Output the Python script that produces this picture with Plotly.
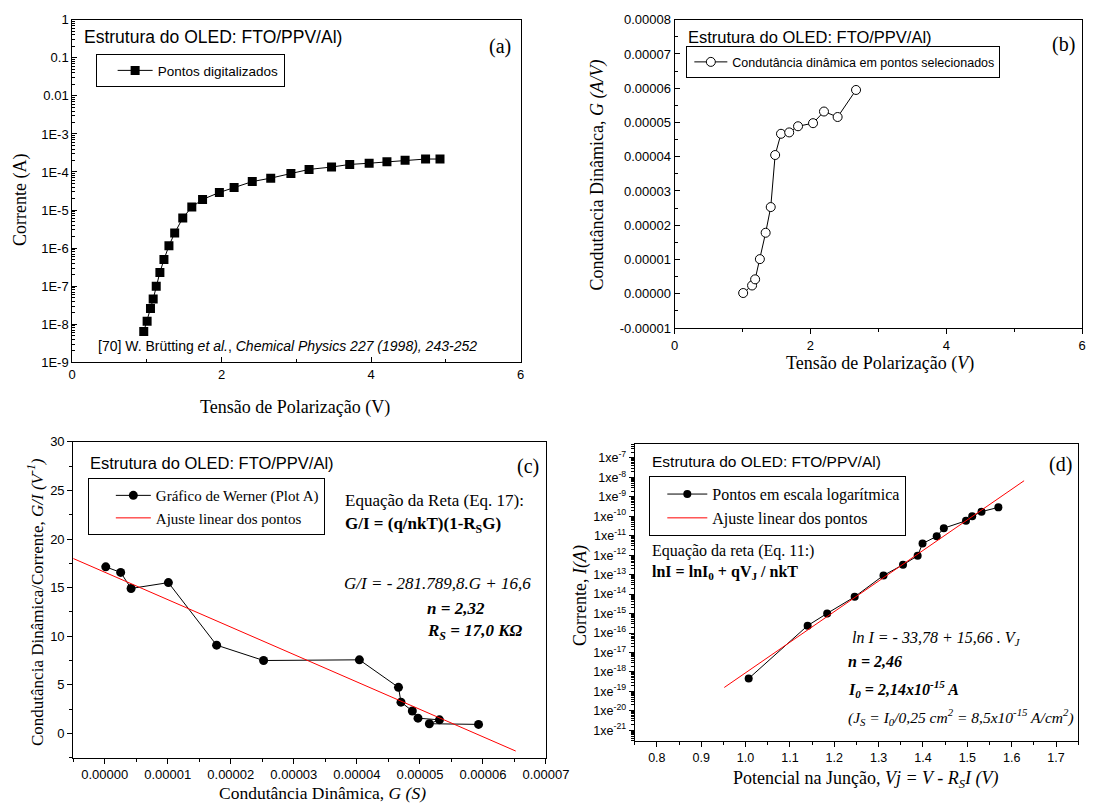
import plotly.graph_objects as go

# ---------------- data ----------------
# (a) I-V curve
a_voltage = [0.957, 1.002, 1.047, 1.083, 1.124, 1.173, 1.227, 1.294, 1.371, 1.479, 1.600, 1.744,
             1.969, 2.166, 2.409, 2.656, 2.926, 3.169, 3.470, 3.713, 3.973, 4.211, 4.454, 4.728, 4.921]
a_current = [6.4e-9, 1.2e-8, 2.6e-8, 4.6e-8, 1.0e-7, 2.3e-7, 5.0e-7, 1.15e-6, 2.5e-6, 6.2e-6, 1.2e-5, 1.9e-5,
             2.9e-5, 3.9e-5, 5.6e-5, 6.9e-5, 9.1e-5, 1.17e-4, 1.35e-4, 1.58e-4, 1.7e-4, 1.86e-4, 2.05e-4, 2.19e-4, 2.19e-4]
a_xticks = [0, 2, 4, 6]
a_yticks = [1e-9, 1e-8, 1e-7, 1e-6, 1e-5, 1e-4, 1e-3, 1e-2, 1e-1, 1]
a_yticktext = ["1E-9", "1E-8", "1E-7", "1E-6", "1E-5", "1E-4", "1E-3", "0.01", "0.1", "1"]

# (b) dynamic conductance
b_voltage = [1.009, 1.140, 1.185, 1.255, 1.340, 1.415, 1.480, 1.566, 1.687, 1.817, 2.038, 2.199, 2.400, 2.671]
b_conductance = [0.02e-5, 0.24e-5, 0.42e-5, 1.01e-5, 1.78e-5, 2.53e-5, 4.05e-5, 4.67e-5, 4.71e-5,
                 4.89e-5, 4.98e-5, 5.32e-5, 5.16e-5, 5.95e-5]
b_yticks = [-0.00001, 0, 0.00001, 0.00002, 0.00003, 0.00004, 0.00005, 0.00006, 0.00007, 0.00008]
b_yticktext = ["-0.00001", "0.00000", "0.00001", "0.00002", "0.00003", "0.00004", "0.00005",
               "0.00006", "0.00007", "0.00008"]

# (c) Werner plot
c_conductance = [0.016e-5, 0.253e-5, 0.418e-5, 1.01e-5, 1.775e-5, 2.52e-5, 4.04e-5, 4.66e-5, 4.70e-5,
                 4.88e-5, 4.97e-5, 5.31e-5, 5.15e-5, 5.93e-5]
c_g_over_i = [17.14, 16.57, 14.92, 15.52, 9.09, 7.51, 7.58, 4.75, 3.23, 2.32, 1.58, 1.41, 1.01, 0.94]
c_fit_x = [-0.000005, 0.0000652]
c_fit_y = [18.0, -1.8]
c_xticks = [0, 0.00001, 0.00002, 0.00003, 0.00004, 0.00005, 0.00006, 0.00007]
c_xticktext = ["0.00000", "0.00001", "0.00002", "0.00003", "0.00004", "0.00005", "0.00006", "0.00007"]
c_yticks = [0, 5, 10, 15, 20, 25, 30]

# (d) ln I vs junction potential
d_vj = [1.007, 1.140, 1.184, 1.246, 1.311, 1.355, 1.388, 1.399, 1.431, 1.447, 1.497, 1.511, 1.532, 1.570]
d_ln_i = [-18.34, -15.62, -14.99, -14.14, -13.04, -12.49, -12.03, -11.40, -11.03, -10.61, -10.23, -10.0, -9.76, -9.54]
d_fit_x = [0.952, 1.628]
d_fit_y = [-18.8, -8.17]
d_xticks = [0.8, 0.9, 1.0, 1.1, 1.2, 1.3, 1.4, 1.5, 1.6, 1.7]
d_xticktext = ["0.8", "0.9", "1.0", "1.1", "1.2", "1.3", "1.4", "1.5", "1.6", "1.7"]
d_yticks = [-21, -20, -19, -18, -17, -16, -15, -14, -13, -12, -11, -10, -9, -8, -7]

# ---------------- styling helpers ----------------
W, H = 1110, 811
SANS = "Arial, Liberation Sans, sans-serif"
SERIF = "Times New Roman, Liberation Serif, serif"


def fx(x):
    return x / W


def fy(y):
    return 1 - y / H


fig = go.Figure()

# (a)
fig.add_trace(go.Scatter(x=a_voltage, y=a_current, mode="lines+markers", name="Pontos digitalizados",
                         line=dict(color="black", width=1),
                         marker=dict(symbol="square", size=9, color="black"),
                         xaxis="x", yaxis="y", legend="legend"))
# (b)
fig.add_trace(go.Scatter(x=b_voltage, y=b_conductance, mode="lines+markers",
                         name="Condutância dinâmica em pontos selecionados",
                         line=dict(color="black", width=1),
                         marker=dict(symbol="circle", size=9, color="white", line=dict(color="black", width=1)),
                         xaxis="x2", yaxis="y2", legend="legend2"))
# (c)
fig.add_trace(go.Scatter(x=c_conductance, y=c_g_over_i, mode="lines+markers", name="Gráfico de Werner (Plot A)",
                         line=dict(color="black", width=1),
                         marker=dict(symbol="circle", size=9, color="black"),
                         xaxis="x3", yaxis="y3", legend="legend3"))
fig.add_trace(go.Scatter(x=c_fit_x, y=c_fit_y, mode="lines", name="Ajuste linear dos pontos",
                         line=dict(color="red", width=1), xaxis="x3", yaxis="y3", legend="legend3"))
# (d)
fig.add_trace(go.Scatter(x=d_vj, y=d_ln_i, mode="lines+markers", name="Pontos em escala logarítmica",
                         line=dict(color="black", width=1),
                         marker=dict(symbol="circle", size=8, color="black"),
                         xaxis="x4", yaxis="y4", legend="legend4"))
fig.add_trace(go.Scatter(x=d_fit_x, y=d_fit_y, mode="lines", name="Ajuste linear dos pontos",
                         line=dict(color="red", width=1), xaxis="x4", yaxis="y4", legend="legend4"))


def axis(domain, anchor, ticks, tickvals, ticktext=None, rng=None, minor_vals=None, typ="linear", size=13):
    d = dict(domain=domain, anchor=anchor, type=typ, range=rng, showgrid=False, zeroline=False,
             showline=True, linecolor="black", linewidth=1, mirror=True,
             ticks=ticks, ticklen=5, tickwidth=1, tickcolor="black",
             tickmode="array", tickvals=tickvals,
             tickfont=dict(family=SANS, size=size, color="black"))
    if ticktext is not None:
        d["ticktext"] = ticktext
    if minor_vals is not None:
        d["minor"] = dict(tickmode="array", tickvals=minor_vals, ticks=ticks, ticklen=3,
                          tickwidth=1, tickcolor="black", showgrid=False)
    return d


a_minor_y = [k * 10 ** e for e in range(-9, 0) for k in range(2, 10)]
b_minor_y = [(-0.5 + i) * 1e-5 for i in range(9)]
c_minor_x = [(-0.5 + i) * 1e-5 for i in range(9)]
c_minor_y = [-2.5 + 5 * i for i in range(7)]
d_minor_x = [0.75 + 0.1 * i for i in range(11)]
d_minor_y = [e + lg for e in range(-22, -6) for lg in (0.301, 0.477, 0.602, 0.699, 0.778, 0.845, 0.903, 0.954)]

fig.update_layout(
    xaxis=axis([fx(70), fx(530)], "y", "inside", a_xticks, None, [0, 6], [1, 3, 5]),
    yaxis=axis([fy(362), fy(13)], "x", "inside", a_yticks, a_yticktext, [-9, 0], a_minor_y, typ="log"),
    xaxis2=axis([fx(688), fx(1106)], "y2", "outside", a_xticks, None, [0, 6], [1, 3, 5]),
    yaxis2=axis([fy(327), fy(13)], "x2", "inside", b_yticks, b_yticktext, [-0.00001, 0.00008], b_minor_y),
    xaxis3=axis([fx(71), fx(556)], "y3", "outside", c_xticks, c_xticktext, [-0.000005, 0.00007], c_minor_x),
    yaxis3=axis([fy(765), fy(443)], "x3", "outside", c_yticks, None, [-2.5, 30], c_minor_y),
    xaxis4=axis([fx(647), fx(1102)], "y4", "outside", d_xticks, d_xticktext, [0.75, 1.75], d_minor_x, size=12.5),
    yaxis4=axis([fy(748), fy(445)], "x4", "outside", d_yticks,
                ["1xe<sup>%d</sup>" % v for v in d_yticks], [-21.56, -6.27], d_minor_y, size=12.5),
)


def legend_box(x, y, family, size, itemwidth=30, indent=0):
    return dict(x=fx(x), y=fy(y), xanchor="left", yanchor="top", bordercolor="black", borderwidth=1,
                bgcolor="white", font=dict(family=family, size=size, color="black"),
                itemwidth=itemwidth, indentation=indent, tracegroupgap=0)


fig.update_layout(
    width=W, height=H, margin=dict(l=0, r=0, t=0, b=0),
    paper_bgcolor="white", plot_bgcolor="white", showlegend=True,
    legend=legend_box(94, 48, SANS, 13.5, itemwidth=35, indent=16),
    legend2=legend_box(700, 40, SANS, 12.5, itemwidth=33, indent=2),
    legend3=legend_box(86, 480, SERIF, 15, itemwidth=35, indent=22),
    legend4=legend_box(662, 478, SERIF, 16, itemwidth=40, indent=12),
)

annotations = []


def ann(text, x, y, size, family=SERIF, xanchor="left", angle=0, color="black"):
    annotations.append(dict(text=text, x=fx(x), y=fy(y), xref="paper", yref="paper", showarrow=False,
                            xanchor=xanchor, yanchor="middle", textangle=angle,
                            font=dict(family=family, size=size, color=color)))


title_txt = "Estrutura do OLED: FTO/PPV/Al)"
# (a)
ann(title_txt, 80, 31, 17.5, SANS)
ann("(a)", 509, 40, 20, SERIF, "center")
ann("[70] W. Brütting <i>et al.</i>, <i>Chemical Physics 227 (1998), 243-252</i>", 94, 345, 14, SANS)
ann("Corrente (A)", 17, 197, 18, SERIF, "center", -90)
ann("Tensão de Polarização (V)", 299, 408, 18, SERIF, "center")
# (b)
ann(title_txt, 700, 31, 16.5, SANS)
ann("(b)", 1087, 38, 20, SERIF, "center")
ann("Condutância Dinâmica, <i>G (A/V)</i>", 609, 171, 18, SERIF, "center", -90)
ann("Tensão de Polarização (<i>V</i>)", 899, 363, 18, SERIF, "center")
# (c)
ann(title_txt, 86, 465, 16.5, SANS)
ann("(c)", 538, 468, 20, SERIF, "center")
ann("Equação da Reta (Eq. 17):", 348, 503, 17)
ann("<b>G/I = (q/nkT)(1-R<sub>S</sub>G)</b>", 348, 528, 17)
ann("<i>G/I = - 281.789,8.G + 16,6</i>", 347, 587, 17)
ann("<b><i>n = 2,32</i></b>", 432, 613, 17)
ann("<b><i>R<sub>S</sub> = 17,0 KΩ</i></b>", 432, 637, 17)
ann("Condutância Dinâmica/Corrente, <i>G/I (V<sup>-1</sup>)</i>", 32, 606, 17, SERIF, "center", -90)
ann("Condutância Dinâmica, <i>G (S)</i>", 327, 801, 17.5, SERIF, "center")
# (d)
ann(title_txt, 663, 463, 15.5, SANS)
ann("(d)", 1084, 466, 20, SERIF, "center")
ann("Equação da reta (Eq. 11:)", 663, 554, 16)
ann("<b>lnI = lnI<sub>0</sub> + qV<sub>J</sub> / nkT</b>", 663, 576, 16)
ann("<i>ln I = - 33,78 + 15,66 . V<sub>J</sub></i>", 868, 643, 16)
ann("<b><i>n = 2,46</i></b>", 864, 667, 16)
ann("<b><i>I<sub>0</sub> = 2,14x10<sup>-15</sup> A</i></b>", 864, 695, 16)
ann("<i>(J<sub>S</sub> = I<sub>0</sub>/0,25 cm<sup>2</sup> = 8,5x10<sup>-15</sup> A/cm<sup>2</sup>)</i>", 864, 723, 15.5)
ann("Corrente, <i>I(A)</i>", 592, 600, 18, SERIF, "center", -90)
ann("Potencial na Junção, <i>Vj = V - R<sub>S</sub>I (V)</i>", 884, 787, 18, SERIF, "center")

fig.update_layout(annotations=annotations)

fig.write_html("out.html")
